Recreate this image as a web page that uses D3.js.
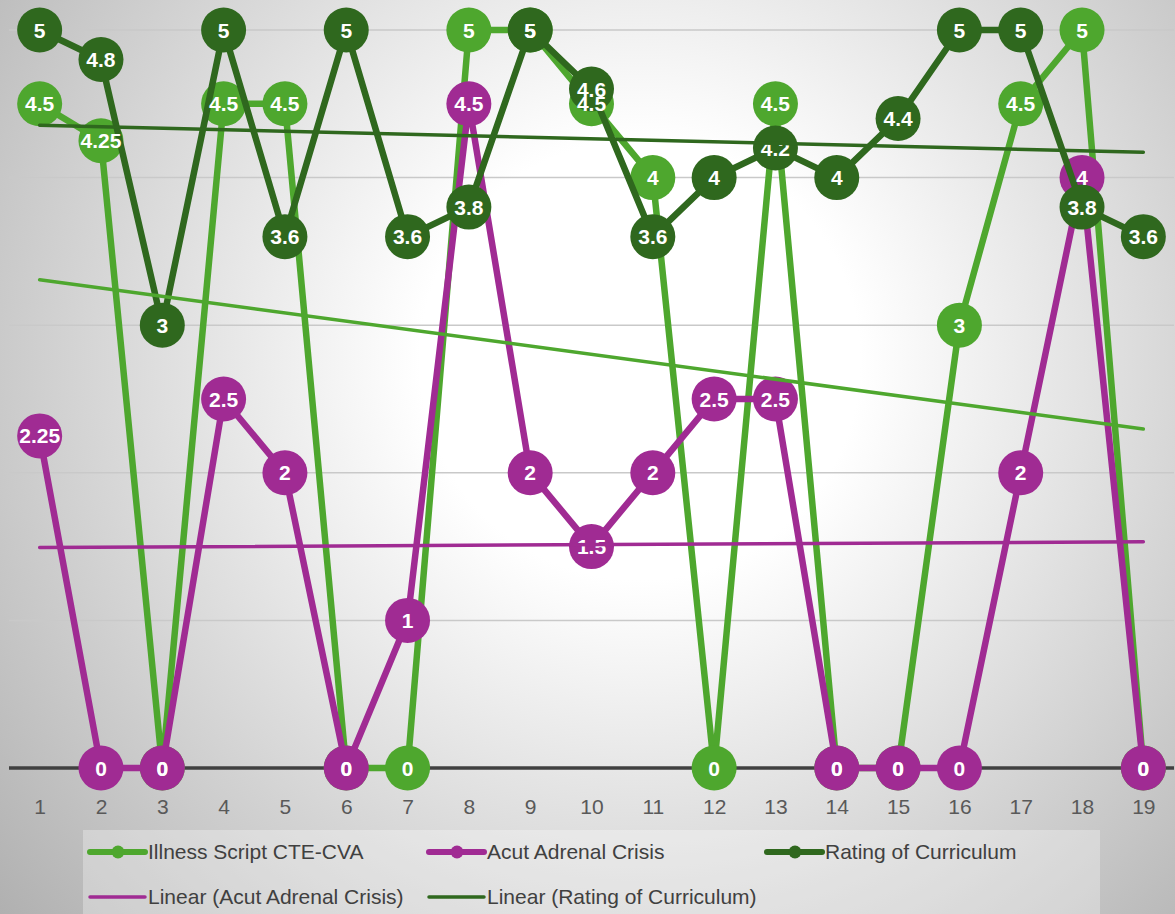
<!DOCTYPE html>
<html>
<head>
<meta charset="utf-8">
<script src="https://cdn.jsdelivr.net/npm/d3@7"></script>
<style>
  body { margin: 0; overflow: hidden; }
  svg { display: block; }
</style>
</head>
<body>
<svg id="chart"></svg>
<script>
const width = 1175;
const height = 914;

// data
const categories = ["1","2","3","4","5","6","7","8","9","10","11","12","13","14","15","16","17","18","19"];
const illnessScript = [4.5, 4.25, 0, 4.5, 4.5, 0, 0, 5, 5, 4.5, 4, 0, 4.5, 0, 0, 3, 4.5, 5, 0];
const acutAdrenal = [2.25, 0, 0, 2.5, 2, 0, 1, 4.5, 2, 1.5, 2, 2.5, 2.5, 0, 0, 0, 2, 4, 0];
const ratingCurriculum = [5, 4.8, 3, 5, 3.6, 5, 3.6, 3.8, 5, 4.6, 3.6, 4, 4.2, 4, 4.4, 5, 5, 3.8, 3.6];
const yTicks = [0, 1, 2, 3, 4, 5];

const series = [
  { name: "Illness Script CTE-CVA", values: illnessScript, color: "#4ea72e" },
  { name: "Acut Adrenal Crisis", values: acutAdrenal, color: "#a02b93" },
  { name: "Rating of Curriculum", values: ratingCurriculum, color: "#2f681e" }
];

const legendItems = [
  { label: "Illness Script CTE-CVA", color: "#4ea72e", marker: true },
  { label: "Acut Adrenal Crisis", color: "#a02b93", marker: true },
  { label: "Rating of Curriculum", color: "#2f681e", marker: true },
  { label: "Linear (Acut Adrenal Crisis)", color: "#a02b93", marker: false },
  { label: "Linear (Rating of Curriculum)", color: "#2f681e", marker: false }
];

const textFont = "'Liberation Sans', Arial, sans-serif";

const svg = d3.select("#chart")
  .attr("width", width)
  .attr("height", height);

// radial background like the excel chart area
const defs = svg.append("defs");
const grad = defs.append("radialGradient")
  .attr("id", "bg")
  .attr("gradientUnits", "userSpaceOnUse")
  .attr("cx", 640).attr("cy", 360).attr("r", 880);
grad.append("stop").attr("offset", "0%").attr("stop-color", "#ffffff");
grad.append("stop").attr("offset", "25%").attr("stop-color", "#ffffff");
grad.append("stop").attr("offset", "100%").attr("stop-color", "#acacac");

svg.append("rect")
  .attr("width", width).attr("height", height)
  .attr("fill", "url(#bg)");

const x = d3.scalePoint()
  .domain(categories)
  .range([9, 1174])
  .padding(0.5);

const y = d3.scaleLinear()
  .domain([0, 5])
  .range([768, 30]);

// gridlines
svg.append("g")
  .selectAll("line")
  .data(yTicks.filter(d => d > 0))
  .enter()
  .append("line")
  .attr("x1", 9).attr("x2", 1174)
  .attr("y1", d => y(d)).attr("y2", d => y(d))
  .attr("stroke", "#c9c9c9")
  .attr("stroke-width", 1.5);

// category axis
const xAxis = svg.append("g")
  .attr("transform", "translate(0," + y(0) + ")")
  .call(d3.axisBottom(x).tickSize(0).tickPadding(31));
xAxis.select(".domain")
  .attr("d", "M9,0H1174")
  .attr("stroke", "#404040")
  .attr("stroke-width", 3.5);
xAxis.selectAll("text")
  .attr("font-family", textFont)
  .attr("font-size", 21)
  .attr("fill", "#595959");

const line = d3.line()
  .x((d, i) => x(categories[i]))
  .y(d => y(d));

// series lines + markers
series.forEach(s => {
  const g = svg.append("g");
  g.append("path")
    .attr("d", line(s.values))
    .attr("fill", "none")
    .attr("stroke", s.color)
    .attr("stroke-width", 6.5)
    .attr("stroke-linejoin", "round")
    .attr("stroke-linecap", "round");
  g.selectAll("circle")
    .data(s.values)
    .enter()
    .append("circle")
    .attr("cx", (d, i) => x(categories[i]))
    .attr("cy", d => y(d))
    .attr("r", 22.5)
    .attr("fill", s.color);
});

// data labels
series.forEach(s => {
  svg.append("g")
    .selectAll("text")
    .data(s.values)
    .enter()
    .append("text")
    .attr("x", (d, i) => x(categories[i]))
    .attr("y", d => y(d))
    .attr("dy", "0.36em")
    .attr("text-anchor", "middle")
    .attr("font-family", textFont)
    .attr("font-weight", "bold")
    .attr("font-size", 21)
    .attr("fill", "#ffffff")
    .text(d => d);
});

// linear trendlines (least squares on the same values)
function trend(values) {
  const xs = values.map((d, i) => i + 1);
  const mx = d3.mean(xs), my = d3.mean(values);
  const slope = d3.sum(xs, (xv, i) => (xv - mx) * (values[i] - my)) / d3.sum(xs, xv => (xv - mx) * (xv - mx));
  const icpt = my - slope * mx;
  return [1, values.length].map(xv => ({ c: categories[xv - 1], v: icpt + slope * xv }));
}

series.forEach(s => {
  const t = trend(s.values);
  svg.append("line")
    .attr("x1", x(t[0].c)).attr("y1", y(t[0].v))
    .attr("x2", x(t[1].c)).attr("y2", y(t[1].v))
    .attr("stroke", s.color)
    .attr("stroke-width", 3.5)
    .attr("stroke-linecap", "round");
});

// legend
const legend = svg.append("g").attr("id", "legend");
legend.append("rect")
  .attr("x", 83).attr("y", 830)
  .attr("width", 1017).attr("height", 100)
  .attr("fill", "#ffffff")
  .attr("fill-opacity", 0.3);

const colX = [90, 429, 767];
const rowY = [852, 897];

legendItems.forEach((item, i) => {
  const lx = colX[i % 3];
  const ly = rowY[Math.floor(i / 3)];
  const g = legend.append("g");
  g.append("line")
    .attr("x1", lx).attr("x2", lx + 55)
    .attr("y1", ly).attr("y2", ly)
    .attr("stroke", item.color)
    .attr("stroke-width", item.marker ? 6 : 3.5)
    .attr("stroke-linecap", "round");
  if (item.marker) {
    g.append("circle")
      .attr("cx", lx + 28).attr("cy", ly)
      .attr("r", 6.5)
      .attr("fill", item.color);
  }
  g.append("text")
    .attr("x", lx + 58)
    .attr("y", ly)
    .attr("dy", "0.35em")
    .attr("font-family", textFont)
    .attr("font-size", 21)
    .attr("fill", "#404040")
    .text(item.label);
});
</script>
</body>
</html>
